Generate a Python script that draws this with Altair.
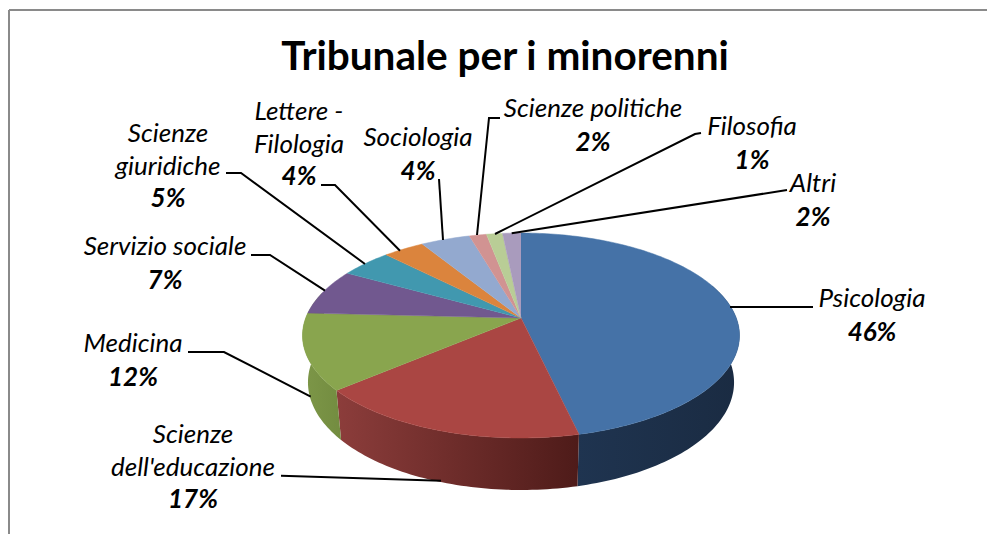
import math
import altair as alt
import pandas as pd

# ---- data ----
categories = ["Psicologia", "Scienze dell'educazione", "Medicina", "Servizio sociale",
              "Scienze giuridiche", "Lettere - Filologia", "Sociologia",
              "Scienze politiche", "Filosofia", "Altri"]
shares = [46.4, 17.4, 12.0, 7.3, 4.5, 3.6, 4.3, 1.5, 1.4, 1.6]
percent_labels = ["46%", "17%", "12%", "7%", "5%", "4%", "4%", "2%", "1%", "2%"]
title_text = "Tribunale per i minorenni"

# ---- styles ----
top_colors = ["#4572A7", "#AA4643", "#89A54E", "#71588F", "#4198AF",
              "#DB843D", "#93A9CF", "#D19392", "#B9CD96", "#A99BBD"]
side_fill = {
    0: ("#1F3450", "#1A2B42"),
    1: ("#8C3D3B", "#4E1B19"),
    2: ("#7D9748", "#738C40"),
}

# ---- layout (page pixels) ----
W, H = 979, 526
OFF = 8
CX, CY, A, B, K = 521.0, 318.0, 99.5, 215.3, -0.1707
BX, BYC, BY = 0.975, 364.0, 1.05

label_lines = [
    [("Psicologia", 872, 307)],
    [("Scienze", 193, 443), ("dell'educazione", 193, 476)],
    [("Medicina", 133, 352)],
    [("Servizio sociale", 165, 255)],
    [("Scienze", 168, 142), ("giuridiche", 168, 175)],
    [("Lettere -", 299, 120), ("Filologia", 299, 153)],
    [("Sociologia", 418, 146)],
    [("Scienze politiche", 593, 117)],
    [("Filosofia", 752, 135)],
    [("Altri", 813, 192)],
]
pct_pos = [(872, 341), (193, 508), (133, 386), (165, 289), (168, 207),
           (299, 185), (418, 180), (593, 151), (752, 169), (813, 226)]
leaders = [
    [(730, 307), (813, 307)],
    [(281, 475.7), (441, 480.7)],
    [(188, 352), (224, 352), (310.7, 396.7)],
    [(251, 255), (270, 255), (325, 290.7)],
    [(226, 173), (241, 173), (365, 264)],
    [(321, 185), (335, 185), (400, 250.7)],
    [(439, 179), (443, 240)],
    [(500, 118), (489, 118), (477, 235)],
    [(701, 133), (695, 134), (495, 234)],
    [(787, 190), (511.7, 233.3)],
]


def rim(theta, bottom=False):
    u, v = math.sin(theta), -math.cos(theta)
    d = 1 + K * v
    dx, dy = B * u / d, A * v / d
    if bottom:
        return CX + BX * dx, BYC + BY * dy
    return CX + dx, CY + dy


def arc_thetas(a, b):
    n = max(2, int(abs(b - a) / 0.02))
    return [a + (b - a) * i / n for i in range(n + 1)]


total = sum(shares)
edges = [0.0]
for s in shares:
    edges.append(edges[-1] + 2 * math.pi * s / total)

top_rows, side_rows = [], []
for i, c in enumerate(categories):
    a, b = edges[i], edges[i + 1]
    pts = [(CX, CY)] + [rim(t) for t in arc_thetas(a, b)]
    for j, (x, y) in enumerate(pts):
        top_rows.append({"face": c, "o": j, "x": x - OFF, "y": y - OFF, "col": top_colors[i]})
    if i in side_fill:
        lo, hi = a, b
        if i == 0:
            lo = math.radians(70)
        if i == 2:
            hi = math.radians(285)
        ts = arc_thetas(lo, hi)
        pts = [rim(t) for t in ts] + [rim(t, True) for t in reversed(ts)]
        for j, (x, y) in enumerate(pts):
            side_rows.append({"face": i, "o": j, "x": x - OFF, "y": y - OFF})

top_df = pd.DataFrame(top_rows)
side_df = pd.DataFrame(side_rows)

xs = alt.Scale(domain=[0, W], range=[0, W], nice=False, zero=False)
ys = alt.Scale(domain=[0, H], range=[0, H], nice=False, zero=False)
X = alt.X("x:Q", scale=xs, axis=None)
Y = alt.Y("y:Q", scale=ys, axis=None)

layers = []

# frame
frame_df = pd.DataFrame([
    {"x": 1, "x2": W, "y": 2, "y2": 2},
    {"x": 1, "x2": 1, "y": 2, "y2": H},
])
layers.append(alt.Chart(frame_df).mark_rule(color="#8A8A8A", strokeWidth=2).encode(
    x=X, x2="x2:Q", y=Y, y2="y2:Q"))

# side walls
for i, (c1, c2) in side_fill.items():
    grad = alt.LinearGradient(gradient="linear", x1=0, x2=1, y1=0, y2=0,
                              stops=[alt.GradientStop(color=c1, offset=0),
                                     alt.GradientStop(color=c2, offset=1)])
    layers.append(alt.Chart(side_df[side_df.face == i]).mark_line(
        fill=grad, stroke=None, interpolate="linear").encode(x=X, y=Y, order="o:Q"))

# top slices
for c, col in zip(categories, top_colors):
    layers.append(alt.Chart(top_df[top_df.face == c]).mark_line(
        fill=col, stroke=col, strokeWidth=0.5).encode(x=X, y=Y, order="o:Q"))

# leader lines
lead_rows = []
for i, line in enumerate(leaders):
    for j, (x, y) in enumerate(line):
        lead_rows.append({"k": i, "o": j, "x": x - OFF, "y": y - OFF})
layers.append(alt.Chart(pd.DataFrame(lead_rows)).mark_line(color="#000000", strokeWidth=2).encode(
    x=X, y=Y, detail="k:N", order="o:Q"))

# labels
name_rows = [{"t": t, "x": x - OFF, "y": y - OFF} for lines in label_lines for t, x, y in lines]
pct_rows = [{"t": t, "x": p[0] - OFF, "y": p[1] - OFF} for t, p in zip(percent_labels, pct_pos)]
layers.append(alt.Chart(pd.DataFrame(name_rows)).mark_text(
    font="Lato", fontSize=26, fontStyle="italic", align="center", baseline="alphabetic",
    color="#000000").encode(x=X, y=Y, text="t:N"))
layers.append(alt.Chart(pd.DataFrame(pct_rows)).mark_text(
    font="Lato", fontSize=26, fontStyle="italic", fontWeight="bold", align="center",
    baseline="alphabetic", color="#000000").encode(x=X, y=Y, text="t:N"))

chart = alt.layer(*layers).properties(
    width=W, height=H,
    padding=0,
    autosize=alt.AutoSizeParams(type="none"),
    title=alt.TitleParams(title_text, font="Lato", fontSize=40.5, fontWeight="bold",
                          color="#000000", anchor="middle", dx=7.5, dy=102,
                          offset=0, baseline="alphabetic"),
).configure_view(stroke=None)

chart.save("out.html", embed_options={"renderer": "svg", "actions": False})
